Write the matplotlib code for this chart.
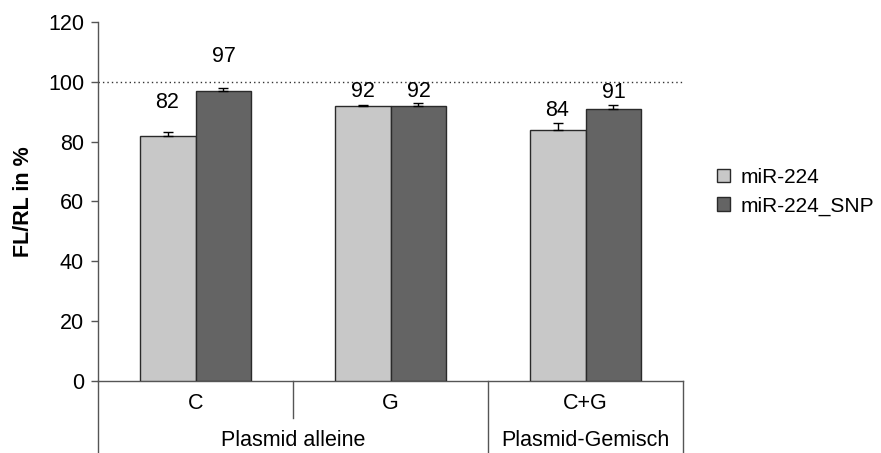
import matplotlib
matplotlib.use("Agg")
import matplotlib.pyplot as plt
from matplotlib.patches import Patch
import numpy as np

plt.rcParams['font.family'] = ['Liberation Sans', 'DejaVu Sans']

# data
categories = ["C", "G", "C+G"]
groups = ["Plasmid alleine", "Plasmid-Gemisch"]
group_spans = [(0, 2), (2, 3)]          # category index range covered by each group
series_names = ["miR-224", "miR-224_SNP"]
mir224 = [82, 92, 84]
mir224_snp = [97, 92, 91]
mir224_err = [1.2, 0.3, 2.4]
mir224_snp_err = [0.9, 0.9, 1.3]
reference_level = 100

# layout
label_y_mir224 = [93.0, 96.9, 90.3]
label_y_snp = [108.4, 96.9, 96.3]
colors = ["#c8c8c8", "#646464"]
edge = "#2a2a2a"
bar_w = 0.287
fs = 15.5

fig = plt.figure(figsize=(8.81, 4.53), dpi=100)
ax = fig.add_axes([98 / 881, 1 - 381 / 453, (683 - 98) / 881, (381 - 22) / 453])

x = np.arange(len(categories)) + 0.5
for vals, errs, col, offs, labs in [
    (mir224, mir224_err, colors[0], -bar_w / 2, label_y_mir224),
    (mir224_snp, mir224_snp_err, colors[1], bar_w / 2, label_y_snp),
]:
    ax.bar(x + offs, vals, width=bar_w, color=col, edgecolor=edge, linewidth=1.0, zorder=3)
    ax.errorbar(x + offs, vals, yerr=[np.zeros(len(errs)), errs], fmt='none',
                ecolor='black', elinewidth=1.0, capsize=3.5, capthick=1.0, zorder=4)
    for xi, v, ly in zip(x + offs, vals, labs):
        ax.text(xi, ly, f"{v:.0f}", ha='center', va='center', fontsize=fs, zorder=5)

ax.axhline(reference_level, xmin=0, xmax=1, color="#333333", linestyle=(0, (1, 2.2)),
           linewidth=1.0, zorder=2)

ax.set_xlim(0, len(categories))
ax.set_ylim(0, 120)
ax.set_yticks(np.arange(0, 121, 20))
ax.tick_params(axis='y', direction='out', length=5, width=1, color="#555555",
               labelsize=fs, pad=5)
ax.set_xticks([])
for s in ['top', 'right']:
    ax.spines[s].set_visible(False)
for s in ['left', 'bottom']:
    ax.spines[s].set_color("#555555")
    ax.spines[s].set_linewidth(1.0)

# hierarchical category axis below the plot
xt = ax.get_xaxis_transform()
line_kw = dict(color="#555555", linewidth=1.0, transform=xt, clip_on=False)
ax.plot([0, 0], [0, -0.25], **line_kw)
for b in range(1, len(categories)):
    is_group_edge = any(b == s[0] for s in group_spans)
    ax.plot([b, b], [0, -0.25 if is_group_edge else -0.103], **line_kw)
ax.plot([len(categories)] * 2, [0, -0.25], **line_kw)

for xi, c in zip(x, categories):
    ax.text(xi, -0.0613, c, ha='center', va='center', fontsize=fs, transform=xt)
for g, (a, b) in zip(groups, group_spans):
    ax.text((a + b) / 2, -0.167, g, ha='center', va='center', fontsize=fs, transform=xt)

fig.text(24 / 881, 1 - 202 / 453, "FL/RL in %", rotation=90, ha='center', va='center',
         fontsize=15.5, fontweight='bold')

handles = [Patch(facecolor=c, edgecolor=edge, linewidth=1.0) for c in colors]
fig.legend(handles, series_names, loc='upper left', bbox_to_anchor=(717 / 881, 1 - 168 / 453),
           frameon=False, fontsize=15, handlelength=0.6, handleheight=0.6,
           handletextpad=0.55, labelspacing=0.45, borderaxespad=0, borderpad=0)

fig.savefig("out.png", dpi=100)
